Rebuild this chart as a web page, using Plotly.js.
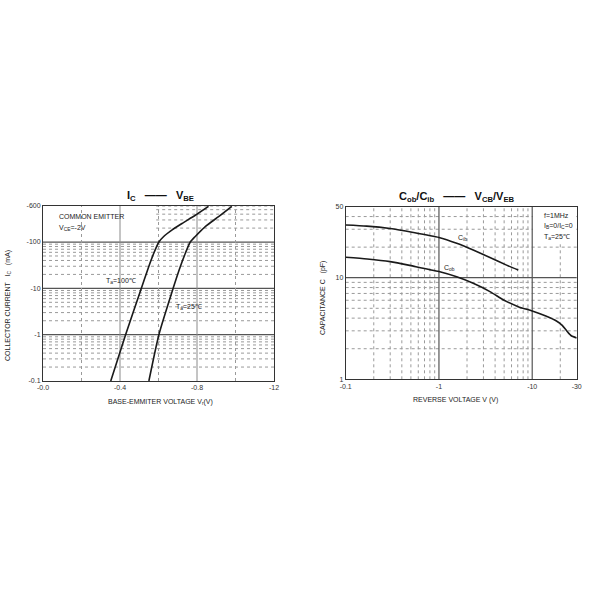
<!DOCTYPE html>
<html>
<head>
<meta charset="utf-8">
<script src="https://cdn.plot.ly/plotly-3.0.1.min.js"></script>
<style>html,body{margin:0;padding:0;background:#fff;}#chart{width:600px;height:600px;}</style>
</head>
<body>
<div id="chart"></div>
<script>
// ---- Data: Ic vs Vbe (left chart) ----
const vbe100 = [-0.352, -0.429, -0.511, -0.550, -0.576, -0.602, -0.627, -0.671, -0.722, -0.791, -0.860];
const ic100  = [0.1, 1, 10, 30, 58, 100, 132, 183, 251, 379, 590];
const vbe25  = [-0.550, -0.602, -0.676, -0.714, -0.740, -0.765, -0.791, -0.843, -0.912, -0.981];
const ic25   = [0.1, 1, 10, 30, 58, 100, 132, 216, 353, 590];
const leftXTickVals = [0, -0.4, -0.8, -1.2];
const leftXTickText = ["-0.0", "-0.4", "-0.8", "-12"];
const leftYTickVals = [0.1, 1, 10, 100, 600];
const leftYTickText = ["-0.1", "-1", "-10", "-100", "-600"];

// ---- Data: Capacitance vs reverse voltage (right chart) ----
const vrCib = [0.1, 0.168, 0.299, 0.531, 1.0, 1.55, 2.33, 3.52, 5.31, 7.08];
const cib   = [33.0, 32.2, 30.5, 27.9, 24.9, 21.8, 18.7, 15.8, 13.3, 11.9];
const vrCob = [0.1, 0.17, 0.3, 0.53, 1.0, 1.55, 2.33, 3.52, 5.0, 7.08, 10, 14, 18.2, 21, 23.4, 26, 30];
const cob   = [15.9, 15.3, 14.4, 13.0, 11.5, 10.2, 8.8, 7.3, 6.0, 5.19, 4.71, 4.2, 3.75, 3.4, 3.0, 2.7, 2.55];
const rightXTickVals = [0.1, 1, 10, 30];
const rightXTickText = ["-0.1", "-1", "-10", "-30"];
const rightYTickVals = [1, 10, 50];
const rightYTickText = ["1", "10", "50"];

const FONT = "Liberation Sans, Arial, sans-serif";
const px = x => x / 600;
const py = y => 1 - y / 600;
const L = Math.log10;

const lineStyle = {color: "#1a1a1a", width: 1.6, shape: "spline", smoothing: 0.6};
const traces = [
  {x: vbe100, y: ic100, xaxis: "x", yaxis: "y", mode: "lines", line: lineStyle, hoverinfo: "skip"},
  {x: vbe25,  y: ic25,  xaxis: "x", yaxis: "y", mode: "lines", line: lineStyle, hoverinfo: "skip"},
  {x: vrCib,  y: cib,   xaxis: "x2", yaxis: "y2", mode: "lines", line: lineStyle, hoverinfo: "skip"},
  {x: vrCob,  y: cob,   xaxis: "x2", yaxis: "y2", mode: "lines", line: lineStyle, hoverinfo: "skip"}
];

const shapes = [];
const dot = {color: "#9a9a9a", width: 1, dash: "dot"};
const majorDark = {color: "#555", width: 1.2};
const majorLight = {color: "#8a8a8a", width: 1};
function hline(xr, yr, yv, line, x0, x1) {
  shapes.push({type: "line", layer: "below", xref: xr, yref: yr,
    x0: x0 === undefined ? 0 : x0, x1: x1 === undefined ? 1 : x1, y0: yv, y1: yv, line: line});
}
function vline(xr, yr, xv, line) {
  shapes.push({type: "line", layer: "below", xref: xr, yref: yr, x0: xv, x1: xv, y0: 0, y1: 1, line: line});
}
// Left chart grid
[0.1, 1, 10, 100].forEach(d => {
  for (let k = 2; k <= 9; k++) {
    const v = d * k;
    if (v > 600) break;
    if (d === 100) hline("x domain", "y", v, dot, 0.49, 1);
    else hline("x domain", "y", v, dot);
  }
});
[1, 10, 100].forEach(v => hline("x domain", "y", v, majorDark));
[-0.2, -0.6, -1.0].forEach(v => vline("x", "y domain", v, dot));
[-0.4, -0.8].forEach(v => vline("x", "y domain", v, majorLight));

// Right chart grid
[1, 10].forEach(d => {
  for (let k = 2; k <= 9; k++) {
    const v = d * k;
    if (v >= 50) break;
    hline("x2 domain", "y2", v, dot);
  }
});
[0.1, 1, 10].forEach(d => {
  for (let k = 2; k <= 9; k++) {
    const v = d * k;
    if (v >= 30) break;
    vline("x2", "y2 domain", v, dot);
  }
});
// white box behind the test-condition text
shapes.push({type: "rect", layer: "below", xref: "paper", yref: "paper",
  x0: px(533), x1: px(576), y0: py(244), y1: py(207), fillcolor: "#fff", line: {width: 0}});
hline("x2 domain", "y2", 10, majorDark);
[1, 10].forEach(v => vline("x2", "y2 domain", v, majorDark));

const tickFont = {family: FONT, size: 7, color: "#333"};
const axisCommon = {showgrid: false, zeroline: false, showline: true, mirror: true,
  linecolor: "#333", linewidth: 1, ticks: "", tickfont: tickFont, tickmode: "array", fixedrange: true};

function ann(text, x, y, opts) {
  return Object.assign({text: text, xref: "paper", yref: "paper", x: px(x), y: py(y),
    showarrow: false, font: {family: FONT, size: 7, color: "#222"}, xanchor: "left", yanchor: "middle"}, opts || {});
}

const annotations = [
  ann("<b>I<sub>C</sub>   ——   V<sub>BE</sub></b>", 160, 196, {xanchor: "center", font: {family: FONT, size: 11, color: "#111"}}),
  ann("<b>C<sub>ob</sub>/C<sub>ib</sub>   ——   V<sub>CB</sub>/V<sub>EB</sub></b>", 457, 197, {xanchor: "center", font: {family: FONT, size: 11, color: "#111"}}),
  ann("COMMON EMITTER", 57, 216),
  ann("V<sub>CE</sub>=-2V", 57, 228),
  ann("T<sub>a</sub>=100℃", 104, 281),
  ann("T<sub>a</sub>=25℃", 174, 307),
  ann("C<sub>ib</sub>", 456, 238),
  ann("C<sub>ob</sub>", 442, 268),
  ann("f=1MHz", 542, 215),
  ann("I<sub>B</sub>=0/I<sub>C</sub>=0", 542, 226),
  ann("T<sub>a</sub>=25℃", 542, 237),
  ann("BASE-EMMITER VOLTAGE V<sub>r</sub>(V)", 160, 402, {xanchor: "center"}),
  ann("REVERSE VOLTAGE V (V)", 455, 400, {xanchor: "center"}),
  ann("COLLECTOR CURRENT   I<sub>C</sub>   (mA)", 8, 306, {xanchor: "center", textangle: -90}),
  ann("CAPACITANCE C   (pF)", 323, 298, {xanchor: "center", textangle: -90})
];

const layout = {
  width: 600, height: 600, margin: {l: 0, r: 0, t: 0, b: 0},
  paper_bgcolor: "#fff", plot_bgcolor: "#fff", showlegend: false,
  font: {family: FONT, size: 7, color: "#333"},
  xaxis: Object.assign({}, axisCommon, {domain: [px(43), px(274)], range: [0, -1.2], anchor: "y",
    tickvals: leftXTickVals, ticktext: leftXTickText}),
  yaxis: Object.assign({}, axisCommon, {domain: [py(381), py(206)], type: "log", range: [-1, L(600)], anchor: "x",
    tickvals: leftYTickVals, ticktext: leftYTickText}),
  xaxis2: Object.assign({}, axisCommon, {domain: [px(345.7), px(576.7)], type: "log", range: [-1, L(30)], anchor: "y2",
    tickvals: rightXTickVals, ticktext: rightXTickText}),
  yaxis2: Object.assign({}, axisCommon, {domain: [py(379.3), py(206.7)], type: "log", range: [0, L(50)], anchor: "x2",
    tickvals: rightYTickVals, ticktext: rightYTickText}),
  shapes: shapes,
  annotations: annotations
};

Plotly.newPlot("chart", traces, layout, {staticPlot: true, displayModeBar: false});
</script>
</body>
</html>
